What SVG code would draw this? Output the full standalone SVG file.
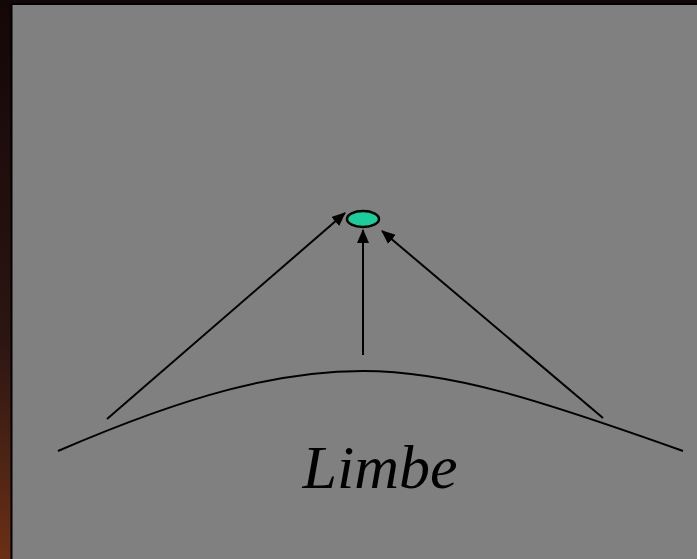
<svg xmlns="http://www.w3.org/2000/svg" width="697" height="559" viewBox="0 0 697 559">
<defs>
<linearGradient id="bg" x1="0" y1="0" x2="0" y2="1">
<stop offset="0" stop-color="#140707"/>
<stop offset="0.6" stop-color="#2a1512"/>
<stop offset="1" stop-color="#6a3014"/>
</linearGradient>
<marker id="ah" viewBox="0 0 14 12" refX="13" refY="6" markerWidth="14" markerHeight="12" markerUnits="userSpaceOnUse" orient="auto">
<path d="M0,0 L14,6 L0,12 z" fill="#000"/>
</marker>
<style>
.c{stroke:#000;stroke-width:2;fill:none}
</style>
</defs>
<rect width="697" height="559" fill="url(#bg)"/>
<rect x="11.5" y="4" width="690" height="560" fill="#808080" stroke="#000" stroke-width="2"/>
<g id="limbe">
<path class="c" d="M58,451 C190,394 280,371 363,371 C450,371 540,400 683,451"/>
<text x="380" y="488" text-anchor="middle" font-family="Liberation Serif, serif" font-style="italic" font-size="62">Limbe</text>
</g>
<g id="observer">
<ellipse cx="363" cy="219" rx="16" ry="8" fill="#1ccc9a" stroke="#000" stroke-width="2.5"/>
</g>
<g id="connectors">
<line class="c" x1="107" y1="419" x2="345" y2="213" marker-end="url(#ah)"/>
<line class="c" x1="363" y1="355" x2="363" y2="230" marker-end="url(#ah)"/>
<line class="c" x1="603" y1="418" x2="382" y2="231" marker-end="url(#ah)"/>
</g>
</svg>
